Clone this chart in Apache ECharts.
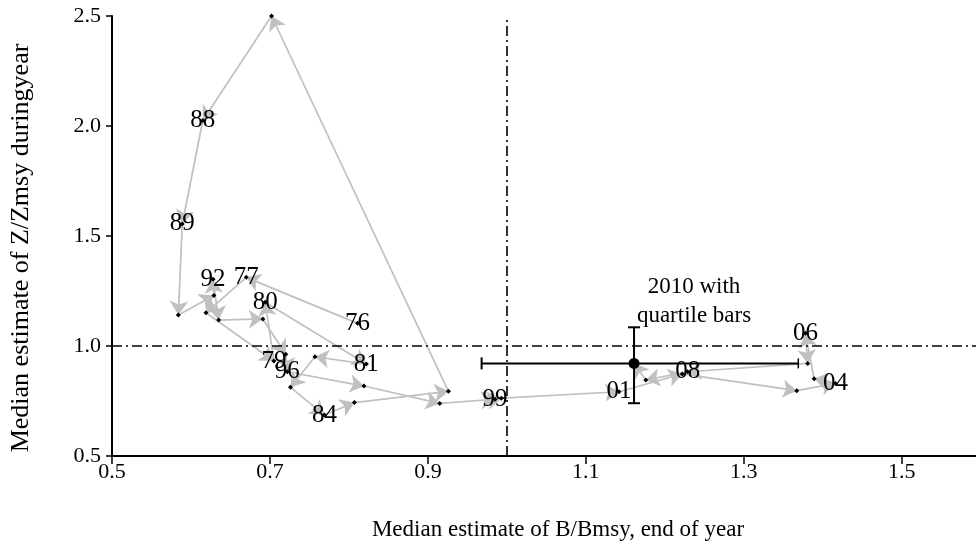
<!DOCTYPE html>
<html><head><meta charset="utf-8">
<script src="https://cdn.jsdelivr.net/npm/echarts@6/dist/echarts.min.js"></script>
<style>html,body{margin:0;padding:0;background:#fff}#c{width:976px;height:552px}</style>
</head><body><div id="c"></div>
<script>
// Year labels (1976 .. 2010)
const years = ['76','77','78','79','80','81','82','83','84','85','86','87','88','89','90','91','92','93','94','95','96','97','98','99','00','01','02','03','04','05','06','07','08','09','10'];
// Median estimate of B/Bmsy, end of year
const bRatio = [0.811,0.670,0.619,0.705,0.694,0.822,0.757,0.726,0.769,0.807,0.926,0.702,0.615,0.589,0.584,0.629,0.628,0.635,0.691,0.720,0.722,0.819,0.915,0.985,0.993,1.142,1.222,1.367,1.416,1.389,1.378,1.381,1.229,1.176,1.161];
// Median estimate of Z/Zmsy during year
const zRatio = [1.103,1.312,1.151,0.932,1.199,0.918,0.951,0.812,0.686,0.743,0.794,2.500,2.025,1.555,1.141,1.229,1.303,1.118,1.123,0.962,0.883,0.818,0.739,0.758,0.763,0.792,0.873,0.797,0.830,0.851,1.058,0.921,0.883,0.845,0.921];
// Years that carry a text label
const labeledYears = ['76','77','79','80','81','84','96','88','89','92','99','01','04','06','08'];
// 2010 quartile bars
const bQuartiles = [0.968, 1.369];
const zQuartiles = [0.740, 1.085];
const finalNote = '2010 with\nquartile bars';
// Axis ticks
const xTicks = [0.5, 0.7, 0.9, 1.1, 1.3, 1.5];
const yTicks = [0.5, 1.0, 1.5, 2.0, 2.5];
const refLines = {b: 1.0, z: 1.0};

const serif = 'Liberation Serif, Times New Roman, serif';
const n = years.length;
const pathPts = [];
for (let i = 0; i < n - 1; i++) pathPts.push([bRatio[i], zRatio[i], years[i]]);
const segs = [];
for (let i = 0; i < n - 1; i++) segs.push({coords: [[bRatio[i], zRatio[i]], [bRatio[i+1], zRatio[i+1]]]});
const lastPt = [bRatio[n-1], zRatio[n-1], bQuartiles[0], bQuartiles[1], zQuartiles[0], zQuartiles[1]];

const chart = echarts.init(document.getElementById('c'));
chart.setOption({
  animation: false,
  backgroundColor: '#fff',
  grid: {left: 112, right: 0, top: 16, bottom: 96},
  xAxis: {
    type: 'value', min: 0.5, max: 1.594,
    name: 'Median estimate of B/Bmsy, end of year', nameLocation: 'middle', nameGap: 62,
    nameTextStyle: {fontFamily: serif, fontSize: 23, color: '#000', padding: [0, 0, 0, 28]},
    axisLine: {lineStyle: {color: '#000', width: 2}},
    axisTick: {show: true, length: 8, inside: false, customValues: xTicks, lineStyle: {color: '#000', width: 1.5}},
    axisLabel: {customValues: xTicks, formatter: v => v.toFixed(1), fontFamily: serif, fontSize: 22, color: '#000', margin: 5},
    splitLine: {show: false}
  },
  yAxis: {
    type: 'value', min: 0.5, max: 2.5, interval: 0.5,
    name: 'Median estimate of Z/Zmsy duringyear', nameLocation: 'middle', nameGap: 78, nameRotate: 90,
    nameTextStyle: {fontFamily: serif, fontSize: 26, color: '#000', padding: [0, 24, 0, 0]},
    axisLine: {lineStyle: {color: '#000', width: 2}},
    axisTick: {show: true, length: 6, lineStyle: {color: '#000', width: 1.5}},
    axisLabel: {formatter: v => v.toFixed(1), fontFamily: serif, fontSize: 22, color: '#000', margin: 11},
    splitLine: {show: false}
  },
  series: [
    {
      type: 'lines', coordinateSystem: 'cartesian2d', z: 2,
      symbol: ['none', 'arrow'], symbolSize: [10, 14],
      lineStyle: {color: '#c0c0c0', width: 1.7, opacity: 1},
      data: segs,
      markLine: {
        silent: true, symbol: 'none', label: {show: false},
        lineStyle: {color: '#000', width: 1.6, type: [10, 4, 2, 4]},
        data: [{yAxis: refLines.z}, {xAxis: refLines.b}]
      }
    },
    {
      type: 'custom', z: 3,
      data: [lastPt],
      renderItem: (params, api) => {
        const b = api.value(0), z = api.value(1);
        const l = api.coord([api.value(2), z]);
        const r = api.coord([api.value(3), z]);
        const lo = api.coord([b, api.value(4)]);
        const hi = api.coord([b, api.value(5)]);
        const st = {stroke: '#000', lineWidth: 2};
        return {type: 'group', children: [
          {type: 'line', shape: {x1: l[0], y1: l[1], x2: r[0], y2: r[1]}, style: st},
          {type: 'line', shape: {x1: l[0], y1: l[1] - 6, x2: l[0], y2: l[1] + 6}, style: st},
          {type: 'line', shape: {x1: r[0], y1: r[1] - 5, x2: r[0], y2: r[1] + 5}, style: {stroke: '#000', lineWidth: 1.5}},
          {type: 'line', shape: {x1: hi[0], y1: hi[1], x2: lo[0], y2: lo[1]}, style: st},
          {type: 'line', shape: {x1: hi[0] - 6, y1: hi[1], x2: hi[0] + 6, y2: hi[1]}, style: st},
          {type: 'line', shape: {x1: lo[0] - 6, y1: lo[1], x2: lo[0] + 6, y2: lo[1]}, style: st}
        ]};
      }
    },
    {
      type: 'scatter', z: 4, symbol: 'diamond', symbolSize: 5,
      itemStyle: {color: '#000', opacity: 1},
      data: pathPts,
      label: {
        show: true, position: 'inside',
        formatter: p => labeledYears.includes(p.value[2]) ? p.value[2] : '',
        fontFamily: serif, fontSize: 25, color: '#000', opacity: 1, textBorderWidth: 0
      }
    },
    {
      type: 'scatter', z: 5, symbol: 'circle', symbolSize: 11,
      itemStyle: {color: '#000', opacity: 1},
      data: [[bRatio[n-1], zRatio[n-1]]],
      label: {
        show: true, position: 'top', offset: [60, -22], opacity: 1, textBorderWidth: 0,
        formatter: finalNote, fontFamily: serif, fontSize: 23, lineHeight: 29, color: '#000', align: 'center'
      }
    }
  ]
});
</script></body></html>
